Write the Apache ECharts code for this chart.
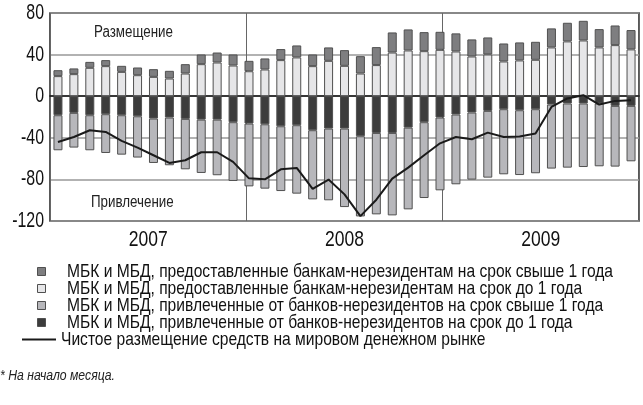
<!DOCTYPE html>
<html>
<head>
<meta charset="utf-8">
<script src="https://cdn.jsdelivr.net/npm/echarts@6/dist/echarts.min.js"></script>
<style>
  html, body { margin: 0; padding: 0; background: #fff; }
  #main { width: 643px; height: 405px; }
</style>
</head>
<body>
<div id="main"></div>
<script>
    // months: 01.2007 .. 01.2010 (на начало месяца)
    var months = ['01.07','02.07','03.07','04.07','05.07','06.07','07.07','08.07','09.07','10.07','11.07','12.07',
                  '01.08','02.08','03.08','04.08','05.08','06.08','07.08','08.08','09.08','10.08','11.08','12.08',
                  '01.09','02.09','03.09','04.09','05.09','06.09','07.09','08.09','09.09','10.09','11.09','12.09',
                  '01.10'];
    var years = ['2007', '2008', '2009'];
    var yTicks = [-120, -80, -40, 0, 40, 80];

    // размещение
    var placedShort = [19.3, 21.2, 27.3, 28.9, 23.4, 20.2, 18.6, 17.0, 21.8, 30.8, 32.4, 29.5,
                       24.0, 25.7, 34.7, 37.3, 28.9, 34.0, 29.2, 21.8, 29.9, 42.0, 44.0, 43.3,
                       44.6, 43.0, 38.2, 40.1, 33.4, 34.4, 35.0, 46.9, 52.7, 53.6, 46.9, 49.1, 45.0];
    var placedLong = [5.7, 5.5, 5.7, 5.8, 5.8, 7.4, 7.4, 7.4, 9.0, 9.3, 9.6, 10.6,
                      10.0, 10.6, 10.6, 11.5, 11.2, 12.9, 15.1, 16.7, 17.3, 19.3, 20.2, 18.3,
                      17.3, 17.4, 16.4, 16.4, 17.3, 17.3, 17.3, 18.3, 17.9, 18.9, 17.6, 18.9, 18.6];
    // привлечение
    var attrShort = [-18.3, -16.0, -18.3, -17.3, -18.3, -19.3, -21.5, -20.5, -21.8, -22.5, -22.5, -25.0,
                     -26.3, -27.0, -28.9, -27.9, -32.7, -31.1, -31.1, -38.5, -35.3, -35.3, -30.2, -25.0,
                     -20.5, -17.6, -15.7, -14.1, -12.5, -13.5, -12.5, -8.0, -7.0, -7.0, -7.0, -9.3, -9.3];
    var attrLong = [-33.7, -33.4, -33.7, -37.3, -37.9, -39.7, -42.7, -45.9, -48.5, -51.3, -53.5, -56.5,
                    -60.4, -61.9, -62.3, -65.8, -66.5, -69.0, -75.5, -77.1, -78.3, -79.3, -78.6, -72.9,
                    -70.0, -67.1, -64.5, -64.2, -62.6, -62.3, -61.6, -61.6, -61.7, -61.1, -60.4, -58.4, -53.3];
    // чистое размещение
    var netPlaced = [-44.0, -39.2, -32.7, -34.4, -43.0, -49.4, -56.8, -64.2, -61.6, -53.9, -53.9, -63.2,
                     -79.0, -79.9, -70.3, -69.0, -89.2, -80.2, -94.4, -115.3, -99.5, -79.3, -68.7, -56.8,
                     -45.3, -39.2, -41.4, -35.0, -39.2, -38.8, -35.9, -10.3, -2.2, 1.0, -8.0, -4.5, -3.9];

    var names = [
        'МБК и МБД, предоставленные банкам-нерезидентам на срок свыше 1 года',
        'МБК и МБД, предоставленные банкам-нерезидентам на срок до 1 года',
        'МБК и МБД, привлеченные от банков-нерезидентов на срок свыше 1 года',
        'МБК и МБД, привлеченные от банков-нерезидентов на срок до 1 года',
        'Чистое размещение средств на мировом денежном рынке'
    ];
    var colors = ['#7e7e80', '#e6e6e8', '#b7b7bb', '#3c3c3c', '#1a1a1a'];

    // narrow font: Liberation Sans squeezed horizontally (like Arial Narrow)
    var FONT = "Liberation Sans";
    var ctx = document.createElement('canvas').getContext('2d');
    function fitScale(text, size, width, italic) {
        ctx.font = (italic ? 'italic ' : '') + size + 'px "' + FONT + '"';
        return width / ctx.measureText(text).width;
    }
    function narrowText(text, x, y, size, scale, align, color, italic) {
        return {
            type: 'text', x: x, y: y, scaleX: scale,
            style: {
                text: text, fontSize: size, fontFamily: FONT, fontStyle: italic ? 'italic' : 'normal',
                fill: color, align: align, verticalAlign: 'middle'
            }
        };
    }

    function barSeries(name, color, dat) {
        return {
            name: name,
            type: 'bar',
            stack: 'all',
            xAxisIndex: 0,
            barWidth: 9,
            itemStyle: { color: color, borderColor: '#505050', borderWidth: 1 },
            data: dat
        };
    }

    var option = {
        animation: false,
        backgroundColor: '#fff',
        textStyle: { fontFamily: FONT },
        grid: {
            left: 50, right: 4, top: 13, bottom: 184,
            show: true, borderColor: '#222', borderWidth: 1.5, backgroundColor: '#fff'
        },
        xAxis: [
            {
                type: 'category',
                data: months,
                axisLine: { show: true, onZero: true, lineStyle: { color: '#111', width: 1.5 } },
                axisTick: { show: false },
                axisLabel: { show: false },
                splitLine: { show: false }
            },
            {
                type: 'category',
                data: years,
                position: 'bottom',
                boundaryGap: true,
                axisLine: { show: false, onZero: false },
                axisTick: { show: false },
                axisLabel: { show: false },
                splitLine: { show: true, lineStyle: { color: '#666', width: 1 } }
            }
        ],
        yAxis: {
            type: 'value',
            min: -120, max: 80, interval: 40,
            axisLine: { show: false },
            axisTick: { show: false },
            axisLabel: { show: false },
            splitLine: { show: true, lineStyle: { color: '#999', width: 1.5 } }
        },
        series: [
            barSeries(names[1], colors[1], placedShort),
            barSeries(names[0], colors[0], placedLong),
            barSeries(names[3], colors[3], attrShort),
            barSeries(names[2], colors[2], attrLong),
            {
                name: names[4],
                type: 'line',
                xAxisIndex: 0,
                symbol: 'none',
                z: 5,
                itemStyle: { color: colors[4] },
                lineStyle: { color: colors[4], width: 2 },
                data: netPlaced
            }
        ]
    };

    var myChart = echarts.init(document.getElementById('main'));
    myChart.setOption(option);

    // texts in a narrow face, placed through the chart's own axes
    var g = [];
    var sTick = fitScale('-40', 22, 23);
    yTicks.forEach(function (v) {
        g.push(narrowText(String(v), 44, myChart.convertToPixel({ yAxisIndex: 0 }, v), 22, sTick, 'right', '#111'));
    });
    var sYear = fitScale('2007', 22, 39);
    years.forEach(function (y) {
        g.push(narrowText(y, myChart.convertToPixel({ xAxisIndex: 1 }, y), 240, 22, sYear, 'center', '#111'));
    });
    var sLbl = fitScale('Размещение', 16, 79);
    g.push(narrowText('Размещение', 94, 33, 16, sLbl, 'left', '#222'));
    g.push(narrowText('Привлечение', 91, 203, 16, sLbl, 'left', '#222'));

    // legend
    var sLeg = fitScale(names[0], 19, 546);
    var legY = [271.5, 288.5, 305.5, 322.5, 339.5];
    names.forEach(function (n, i) {
        if (i < 4) {
            g.push({ type: 'rect', shape: { x: 37.5, y: legY[i] - 4, width: 8, height: 8 },
                     style: { fill: colors[i], stroke: '#505050', lineWidth: 1 } });
        } else {
            g.push({ type: 'rect', shape: { x: 22, y: legY[i] - 1, width: 34, height: 2 },
                     style: { fill: colors[i] } });
        }
        g.push(narrowText(n, i < 4 ? 67 : 61, legY[i], 19, sLeg, 'left', '#111'));
    });
    g.push(narrowText('* На начало месяца.', 0, 376, 14, fitScale('* На начало месяца.', 14, 115, true), 'left', '#222', true));

    myChart.setOption({ graphic: g });
</script>
</body>
</html>
